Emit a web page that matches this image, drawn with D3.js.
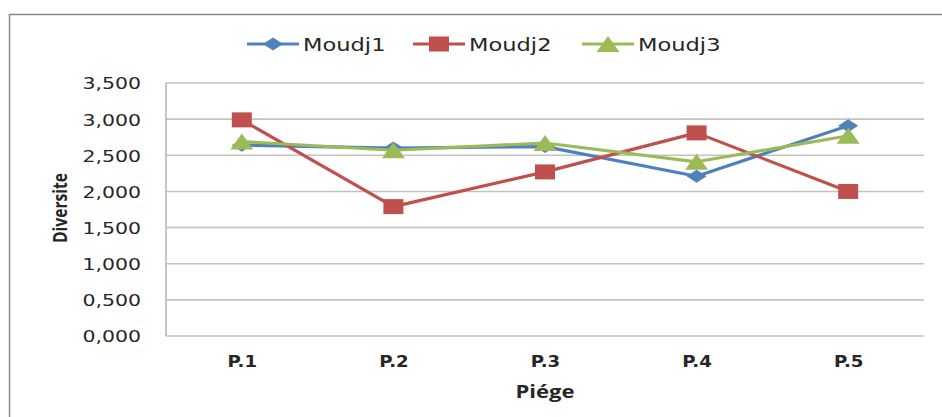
<!DOCTYPE html>
<html><head><meta charset="utf-8">
<script src="https://cdn.jsdelivr.net/npm/d3@7"></script>
<style>body{margin:0;background:#fff}svg{display:block}</style>
</head><body>
<svg id="c" width="942" height="417"></svg>
<script>
const categories = ["P.1","P.2","P.3","P.4","P.5"];
const moudj1 = [2.64, 2.60, 2.62, 2.21, 2.91];
const moudj2 = [2.99, 1.79, 2.27, 2.81, 2.00];
const moudj3 = [2.69, 2.57, 2.67, 2.41, 2.77];
const yTicks = [0, 0.5, 1, 1.5, 2, 2.5, 3, 3.5];
const seriesNames = ["Moudj1","Moudj2","Moudj3"];
const colors = ["#4F81BD","#C0504D","#9BBB59"];
const shapes = ["diamond","square","triangle"];

const series = [moudj1, moudj2, moudj3].map((v,i)=>({name:seriesNames[i], values:v, color:colors[i], shape:shapes[i]}));

const svg = d3.select("#c");
const m = {l:166, r:924, t:83, b:336};

// outer border
svg.append("path").attr("d", `M9.5,${420} V14.5 H${950}`).attr("fill","none").attr("stroke","#8a8a8a").attr("stroke-width",1.5);

const x = d3.scalePoint().domain(categories).range([m.l, m.r]).padding(0.5);
const y = d3.scaleLinear().domain([0,3.5]).range([m.b, m.t]);

// gridlines
svg.append("g").selectAll("line").data(yTicks).join("line")
  .attr("x1", m.l).attr("x2", m.r).attr("y1", d=>y(d)).attr("y2", d=>y(d))
  .attr("stroke","#c3c3c3").attr("stroke-width",1.6);
// y axis line
svg.append("line").attr("x1",m.l).attr("x2",m.l).attr("y1",m.t).attr("y2",m.b).attr("stroke","#b8b8b8").attr("stroke-width",1.6);

const yAxis = d3.axisLeft(y).tickValues(yTicks).tickSize(0).tickPadding(0)
  .tickFormat(d=>d3.format(".3f")(d).replace(".", ","));
const gy = svg.append("g").attr("transform",`translate(${m.l-25},0)`).call(yAxis);
gy.select(".domain").remove();
gy.selectAll(".tick text").attr("font-family","DejaVu Sans").attr("font-size",16.5).attr("fill","#262626")
  .attr("transform",`scale(1.24,1)`).attr("dy","0.36em");

const xAxis = d3.axisBottom(x).tickSize(0).tickPadding(0);
const gx = svg.append("g").attr("transform",`translate(0,${m.b+25})`).call(xAxis);
gx.select(".domain").remove();
gx.selectAll(".tick text").attr("font-family","DejaVu Sans").attr("font-weight","bold").attr("font-size",16.5)
  .attr("fill","#262626").attr("dy","0.36em").attr("transform",`scale(1.1,1)`);

// axis titles
svg.append("text").attr("x",545).attr("y",392).attr("dy","0.36em").attr("text-anchor","middle")
  .attr("font-family","Open Sans").attr("font-weight","bold").attr("font-size",17.5).attr("fill","#262626")
  .attr("textLength",59).attr("lengthAdjust","spacingAndGlyphs").text("Piége");
svg.append("text").attr("transform","translate(60,208) rotate(-90)").attr("dy","0.36em").attr("text-anchor","middle")
  .attr("font-family","Open Sans").attr("font-weight","bold").attr("font-size",20).attr("fill","#262626")
  .attr("textLength",70).attr("lengthAdjust","spacingAndGlyphs").text("Diversite");

function markerPath(shape){
  if(shape==="diamond") return "M-10,0 L0,-6.5 L10,0 L0,6.5 Z";
  if(shape==="square") return "M-10,-7.5 H10 V7.5 H-10 Z";
  return "M-11.5,8 L0,-8 L11.5,8 Z";
}

const line = d3.line().x((d,i)=>x(categories[i])).y(d=>y(d));
const gs = svg.append("g").selectAll("g").data(series).join("g");
gs.append("path").attr("d", d=>line(d.values)).attr("fill","none").attr("stroke", d=>d.color).attr("stroke-width",3.2).attr("stroke-linejoin","round");
gs.each(function(s){
  d3.select(this).selectAll("path.mk").data(s.values).join("path").attr("class","mk")
    .attr("transform",(d,i)=>`translate(${x(categories[i])},${y(d)})`)
    .attr("d", markerPath(s.shape)).attr("fill", s.color);
});

// legend
const legX = [247, 413, 582];
const lg = svg.append("g").selectAll("g").data(series).join("g").attr("transform",(d,i)=>`translate(${legX[i]},44)`);
lg.append("line").attr("x1",0).attr("x2",52).attr("stroke",d=>d.color).attr("stroke-width",3.2);
lg.append("path").attr("transform","translate(26,0)").attr("d",d=>markerPath(d.shape)).attr("fill",d=>d.color);
lg.append("text").attr("x",56/1.22).attr("dy","0.36em").attr("transform","scale(1.22,1)")
  .attr("font-family","DejaVu Sans").attr("font-size",18.5).attr("fill","#262626").text(d=>d.name);
</script>
</body></html>
